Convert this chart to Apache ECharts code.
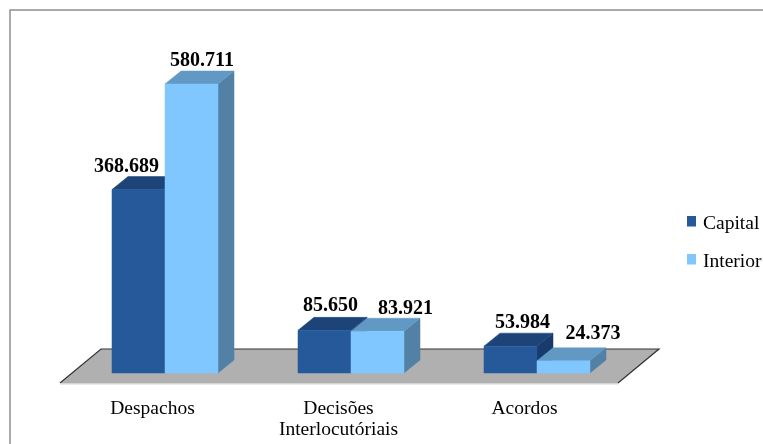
<!DOCTYPE html>
<html><head><meta charset="utf-8">
<style>html,body{margin:0;padding:0;background:#fff}#c{width:763px;height:444px}</style>
<script src="https://cdn.jsdelivr.net/npm/echarts@6/dist/echarts.min.js"></script>
</head><body><div id="c"></div>
<script>
const categories = ['Despachos', 'Decisões\nInterlocutóriais', 'Acordos'];
const capital = [368689, 85650, 53984];
const interior = [580711, 83921, 24373];
const capitalLabels = ['368.689', '85.650', '53.984'];
const interiorLabels = ['580.711', '83.921', '24.373'];

const chart = echarts.init(document.getElementById('c'));
const FONT = '"Liberation Serif","Times New Roman",serif';
const DX = 16, DY = -13;
const capitalLabelShift = [[-12, -9.5], [6, -11.4], [12, -10]];
const interiorLabelShift = [[10.5, -10], [28, -9], [29.5, -14]];

function bar3d(colors, side, labels, shifts) {
  return function (params, api) {
    const i = api.value(0), v = api.value(1);
    const band = api.size([1, 0])[0];
    const w = band * 0.285;
    const base = api.coord([i, 0]);
    const top = api.coord([i, v]);
    const x0 = base[0] + (side < 0 ? -w : 0), x1 = x0 + w;
    const y0 = base[1], y1 = top[1];
    const poly = (pts, fill) => ({
      type: 'polygon', shape: { points: pts },
      style: { fill: fill, stroke: fill, lineWidth: 0.5 }
    });
    const s = shifts[params.dataIndex];
    return {
      type: 'group',
      children: [
        poly([[x1, y0], [x1 + DX, y0 + DY], [x1 + DX, y1 + DY], [x1, y1]], colors.side),
        poly([[x0, y1], [x0 + DX, y1 + DY], [x1 + DX, y1 + DY], [x1, y1]], colors.top),
        poly([[x0, y0], [x1, y0], [x1, y1], [x0, y1]], colors.front),
        {
          type: 'text', z2: 50,
          style: {
            text: labels[params.dataIndex], x: (x0 + x1) / 2 + s[0], y: y1 + DY + s[1],
            align: 'center', verticalAlign: 'middle',
            font: 'bold 20px ' + FONT, fill: '#000'
          }
        }
      ]
    };
  };
}

function floor(params, api) {
  const c = params.coordSys;
  const yb = c.y + c.height;
  const left = c.x - 12, right = c.x + c.width - 12, front = yb + 10, back = yb - 24, d = 41;
  return {
    type: 'group',
    children: [
      { type: 'polygon', shape: { points: [[left, front], [right, front], [right + d, back], [left + d, back]] },
        style: { fill: '#b0b0b0', stroke: null } },
      { type: 'polyline', shape: { points: [[left, front], [left + d, back], [right + d, back], [right, front]] },
        style: { fill: null, stroke: '#333', lineWidth: 1.2 } },
      { type: 'line', shape: { x1: left, y1: front + 0.8, x2: right, y2: front + 0.8 },
        style: { stroke: '#d4d4d4', lineWidth: 1.5 } }
    ]
  };
}

const capitalColors = { front: '#25599a', top: '#1d4478', side: '#193b6b' };
const interiorColors = { front: '#80c6ff', top: '#6199c4', side: '#5380a5' };

chart.setOption({
  animation: false,
  backgroundColor: '#fff',
  grid: { left: 72, top: 74.4, width: 558, height: 298.6 },
  graphic: [{ type: 'polyline', silent: true, z: -1,
    shape: { points: [[763, 10], [10, 10], [10, 444]] },
    style: { fill: null, stroke: '#8f8f8f', lineWidth: 1.5 } }],
  legend: {
    orient: 'vertical', left: 682, top: 209, itemWidth: 9, itemHeight: 16, itemGap: 18,
    icon: 'path://M0 0H9V10.5H0Z M0 16H0.01V16.01H0Z', data: ['Capital', 'Interior'],
    textStyle: { fontFamily: FONT, fontSize: 19.5, color: '#000', padding: [0, 0, 0, 2] }
  },
  xAxis: {
    type: 'category', data: categories,
    axisLine: { show: false }, axisTick: { show: false }, splitLine: { show: false },
    axisLabel: { color: '#000', fontFamily: FONT, fontSize: 19.5, margin: 25, lineHeight: 21, interval: 0, padding: [0, 25, 0, 0] }
  },
  yAxis: { type: 'value', min: 0, max: 600000, show: false },
  series: [
    { type: 'custom', name: 'floor', silent: true, z: 1, renderItem: floor, data: [[0, 0]], encode: { x: 0, y: 1 } },
    { type: 'custom', name: 'Capital', z: 2, itemStyle: { color: capitalColors.front },
      renderItem: bar3d(capitalColors, -1, capitalLabels, capitalLabelShift),
      data: capital.map((v, i) => [i, v]), encode: { x: 0, y: 1 } },
    { type: 'custom', name: 'Interior', z: 3, itemStyle: { color: interiorColors.front },
      renderItem: bar3d(interiorColors, 1, interiorLabels, interiorLabelShift),
      data: interior.map((v, i) => [i, v]), encode: { x: 0, y: 1 } }
  ]
});
</script></body></html>
